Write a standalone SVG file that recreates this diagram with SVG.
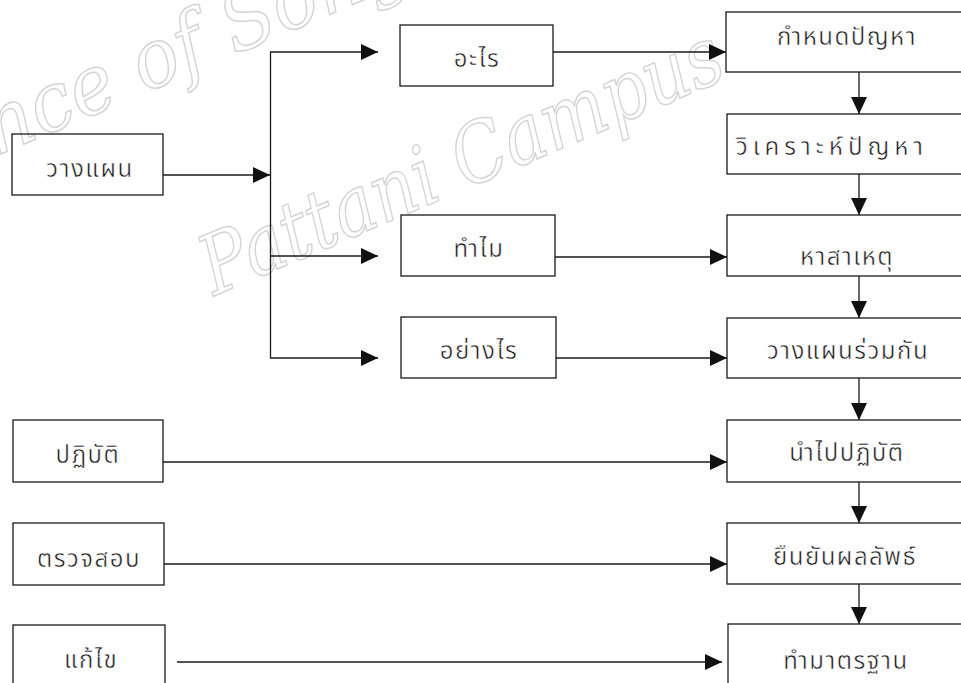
<svg xmlns="http://www.w3.org/2000/svg" width="961" height="683" viewBox="0 0 961 683">
<defs>
<style>
.bg{fill:#ffffff}
.box{fill:none;stroke:#1a1a1a;stroke-width:1.3}
.lbl{font-family:"Noto Sans Thai","Noto Sans","DejaVu Sans",sans-serif;font-size:24px;fill:#1a1a1a;stroke:#ffffff;stroke-width:0.5;text-anchor:middle;letter-spacing:1.5px}
.wide{letter-spacing:5px}
.con{fill:none;stroke:#1a1a1a;stroke-width:1.3}
.wm{font-family:"DejaVu Serif","Liberation Serif",serif;font-style:italic;font-size:82px;fill:none;stroke:#d4d4d4;stroke-width:1.5}
</style>
<marker id="ah" markerWidth="18" markerHeight="16" refX="17" refY="8" orient="auto" markerUnits="userSpaceOnUse">
<path d="M0,0 L17,8 L0,16 Z" fill="#111"/>
</marker>
</defs>
<rect class="bg" x="0" y="0" width="961" height="683"/>
<g id="watermark">
<text class="wm" transform="translate(-4,156) rotate(-23)" textLength="455" lengthAdjust="spacingAndGlyphs">nce of Song</text>
<text class="wm" transform="translate(214,296) rotate(-23)" textLength="560" lengthAdjust="spacingAndGlyphs">Pattani Campus</text>
</g>
<g id="connectors">
<line class="con" x1="163" y1="175" x2="270" y2="175" marker-end="url(#ah)"/>
<line class="con" x1="270.5" y1="52" x2="270.5" y2="358"/>
<line class="con" x1="270" y1="52" x2="378" y2="52" marker-end="url(#ah)"/>
<line class="con" x1="270" y1="256" x2="378" y2="256" marker-end="url(#ah)"/>
<line class="con" x1="270" y1="358" x2="378" y2="358" marker-end="url(#ah)"/>
<line class="con" x1="553" y1="52" x2="726" y2="52" marker-end="url(#ah)"/>
<line class="con" x1="555" y1="257" x2="727" y2="257" marker-end="url(#ah)"/>
<line class="con" x1="556" y1="358" x2="727" y2="358" marker-end="url(#ah)"/>
<line class="con" x1="163" y1="462" x2="727" y2="462" marker-end="url(#ah)"/>
<line class="con" x1="164" y1="564" x2="727" y2="564" marker-end="url(#ah)"/>
<line class="con" x1="177" y1="662" x2="722" y2="662" marker-end="url(#ah)"/>
<line class="con" x1="859" y1="72" x2="859" y2="114" marker-end="url(#ah)"/>
<line class="con" x1="859" y1="174" x2="859" y2="215" marker-end="url(#ah)"/>
<line class="con" x1="859" y1="276" x2="859" y2="318" marker-end="url(#ah)"/>
<line class="con" x1="859" y1="378" x2="859" y2="420" marker-end="url(#ah)"/>
<line class="con" x1="859" y1="482" x2="859" y2="523" marker-end="url(#ah)"/>
<line class="con" x1="859" y1="584" x2="859" y2="624" marker-end="url(#ah)"/>
</g>
<g id="n-plan"><rect class="box" x="12" y="134" width="151" height="61"/><text class="lbl" x="90" y="177">วางแผน</text></g>
<g id="n-do"><rect class="box" x="13" y="420" width="150" height="62"/><text class="lbl" x="88" y="463">ปฏิบัติ</text></g>
<g id="n-check"><rect class="box" x="13" y="523" width="151" height="62"/><text class="lbl" x="89" y="567">ตรวจสอบ</text></g>
<g id="n-act"><rect class="box" x="13" y="625" width="152" height="70"/><text class="lbl" x="91" y="668">แก้ไข</text></g>
<g id="n-what"><rect class="box" x="400" y="25" width="153" height="61"/><text class="lbl" x="477" y="67">อะไร</text></g>
<g id="n-why"><rect class="box" x="401" y="215" width="154" height="61"/><text class="lbl" x="479" y="257">ทำไม</text></g>
<g id="n-how"><rect class="box" x="401" y="317" width="155" height="61"/><text class="lbl" x="479" y="359">อย่างไร</text></g>
<g id="n-define"><rect class="box" x="726" y="12" width="250" height="60"/><text class="lbl" x="847" y="45">กำหนดปัญหา</text></g>
<g id="n-analyze"><rect class="box" x="727" y="114" width="250" height="60"/><text class="lbl wide" x="832" y="155">วิเคราะห์ปัญหา</text></g>
<g id="n-cause"><rect class="box" x="727" y="215" width="250" height="61"/><text class="lbl" x="847" y="265">หาสาเหตุ</text></g>
<g id="n-plan2"><rect class="box" x="727" y="318" width="250" height="60"/><text class="lbl" x="848" y="359">วางแผนร่วมกัน</text></g>
<g id="n-implement"><rect class="box" x="727" y="420" width="250" height="62"/><text class="lbl" x="847" y="461">นำไปปฏิบัติ</text></g>
<g id="n-confirm"><rect class="box" x="727" y="523" width="250" height="61"/><text class="lbl" x="845" y="565">ยืนยันผลลัพธ์</text></g>
<g id="n-standard"><rect class="box" x="728" y="624" width="250" height="70"/><text class="lbl" x="846" y="669">ทำมาตรฐาน</text></g>
</svg>
